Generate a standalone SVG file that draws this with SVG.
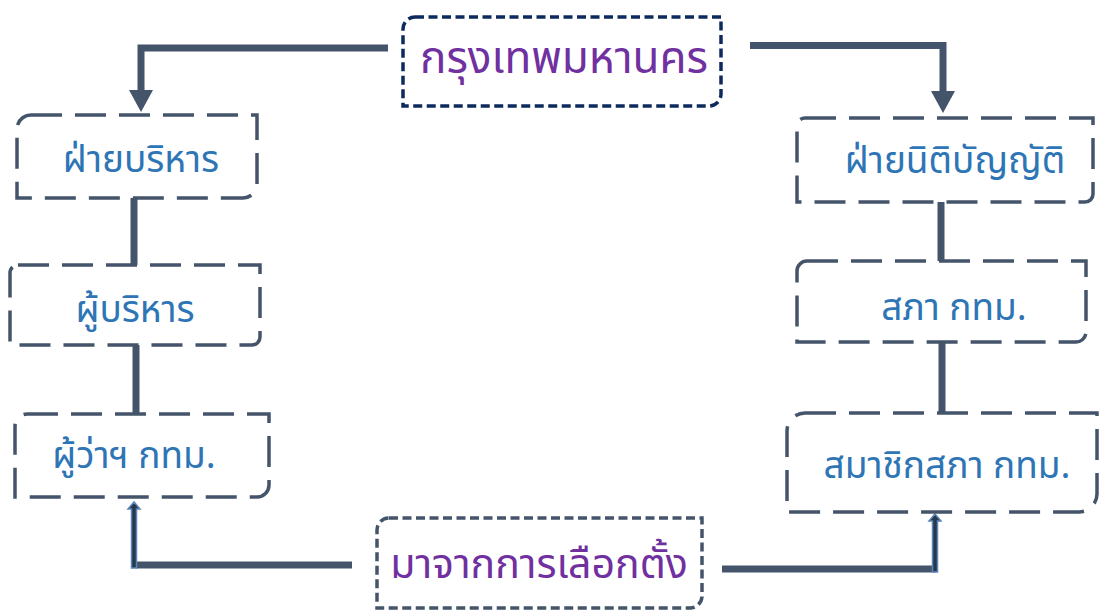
<svg xmlns="http://www.w3.org/2000/svg" width="1099" height="611" viewBox="0 0 1099 611">
<defs>
<style>
.box{fill:#fff;stroke:#44546a;stroke-width:3.5;stroke-dasharray:31 13}
.boxs{fill:#fff;stroke:#44546a;stroke-width:3.5;stroke-dasharray:9 4.5}
.boxt{fill:#fff;stroke:#0e2a5c;stroke-width:3.5;stroke-dasharray:9 4.5}
.lbl{font-family:"Noto Sans Thai","Leelawadee UI",Tahoma,"Noto Sans","DejaVu Sans",sans-serif;fill:#2e75b6;font-size:37px;font-weight:400;text-anchor:middle}
.big{font-family:"Noto Sans Thai","Leelawadee UI",Tahoma,"Noto Sans","DejaVu Sans",sans-serif;fill:#7030a0;font-size:42px;font-weight:400;text-anchor:middle}
.conn{fill:none;stroke:#44546a;stroke-width:7}
.uparr{fill:#27384d;stroke:#5b86b8;stroke-width:1.5}
</style>
<marker id="ah" viewBox="0 0 22 24" refX="0" refY="12" markerWidth="22" markerHeight="24" markerUnits="userSpaceOnUse" orient="auto">
<path d="M0 0 L22 12 L0 24 Z" fill="#44546a"/>
</marker>
</defs>
<rect width="1099" height="611" fill="#fff"/>
<g id="connectors">
<path class="conn" d="M388 48 H141 V90" marker-end="url(#ah)"/>
<path class="conn" d="M750 45.5 H943 V91" marker-end="url(#ah)"/>
<path class="conn" d="M134 198 V265"/>
<path class="conn" d="M136 345 V414"/>
<path class="conn" d="M941 202 V261"/>
<path class="conn" d="M942 342 V413"/>
<path class="conn" d="M352 565 H136"/>
<path class="conn" d="M722 569 H935"/>
<path class="uparr" d="M131.5 568 V509 H128 L134 502 L140 509 H136.5 V568 Z"/>
<path class="uparr" d="M932.5 572 V521 H929 L935 514 L941 521 H937.5 V572 Z"/>
</g>
<g id="n-bangkok">
<path class="boxt" d="M415 17 H721 V94 A12 12 0 0 1 709 106 H403 V29 A12 12 0 0 1 415 17 Z"/>
<text class="big" x="564" y="73" style="font-size:44px">กรุงเทพมหานคร</text>
</g>
<g id="n-exec">
<path class="box" d="M31 115 H257 V184 A14 14 0 0 1 243 198 H17 V129 A14 14 0 0 1 31 115 Z"/>
<text class="lbl" x="141" y="172">ฝ่ายบริหาร</text>
</g>
<g id="n-executive">
<path class="box" d="M18 265 H260 V337 A8 8 0 0 1 252 345 H10 V273 A8 8 0 0 1 18 265 Z"/>
<text class="lbl" x="135" y="322">ผู้บริหาร</text>
</g>
<g id="n-governor">
<path class="box" d="M27 414 H269 V485 A12 12 0 0 1 257 497 H15 V426 A12 12 0 0 1 27 414 Z"/>
<text class="lbl" x="134" y="468">ผู้ว่าฯ กทม.</text>
</g>
<g id="n-legis">
<path class="box" d="M805 118 H1093 V194 A8 8 0 0 1 1085 202 H797 V126 A8 8 0 0 1 805 118 Z"/>
<text class="lbl" x="955" y="173">ฝ่ายนิติบัญญัติ</text>
</g>
<g id="n-council">
<path class="box" d="M807 261 H1086 V332 A10 10 0 0 1 1076 342 H797 V271 A10 10 0 0 1 807 261 Z"/>
<text class="lbl" x="954" y="320">สภา กทม.</text>
</g>
<g id="n-members">
<path class="box" d="M805 413 H1097 V494 A18 18 0 0 1 1079 512 H787 V431 A18 18 0 0 1 805 413 Z"/>
<text class="lbl" x="947" y="478">สมาชิกสภา กทม.</text>
</g>
<g id="n-elected">
<path class="boxs" d="M389 518 H702 V596 A12 12 0 0 1 690 608 H377 V530 A12 12 0 0 1 389 518 Z"/>
<text class="big" x="539" y="578" style="font-size:41px">มาจากการเลือกตั้ง</text>
</g>
</svg>
